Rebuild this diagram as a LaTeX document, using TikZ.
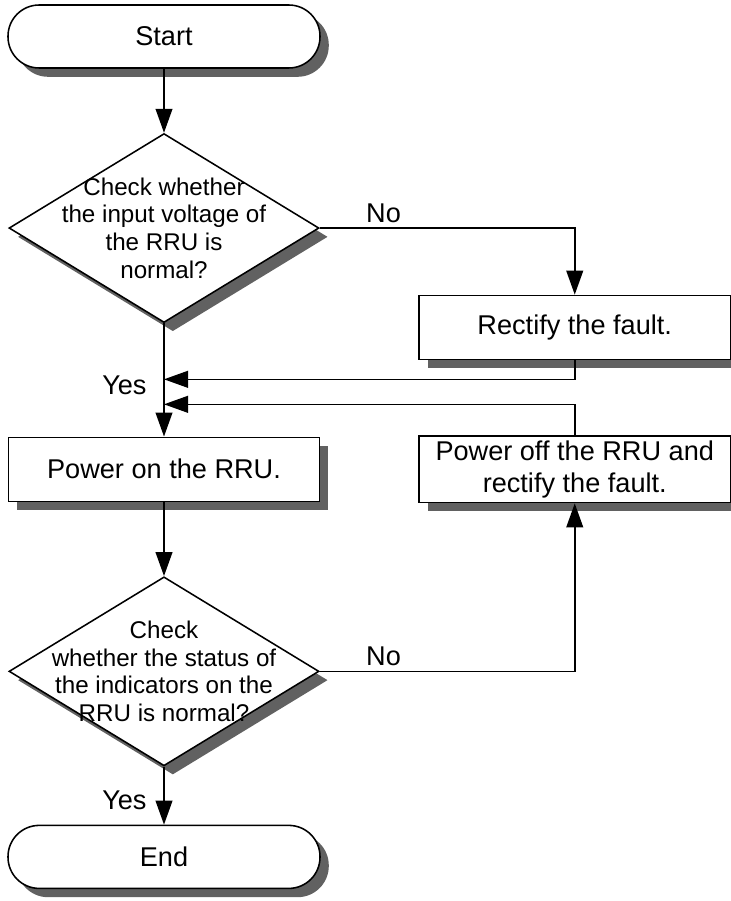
\documentclass[tikz,border=0pt]{standalone}
\usepackage{fontspec}
\setmainfont{Liberation Sans}
\usetikzlibrary{arrows.meta,positioning,calc,shapes.geometric,shadows}

\newcommand{\procfont}{\fontsize{19.3}{22.8}\selectfont}
\newcommand{\askfont}{\fontsize{17.2}{19.6}\selectfont}

\begin{document}
\begin{tikzpicture}[
  shade box/.style={drop shadow={shadow xshift=0.22cm, shadow yshift=-0.22cm, fill=black!62, opacity=1}},
  terminal/.style={draw, line width=1.1pt, fill=white, rounded corners=0.78cm, minimum width=7.8cm, minimum height=1.575cm, font=\procfont, shade box},
  process/.style={draw, line width=1.1pt, fill=white, align=center, minimum width=7.78cm, minimum height=1.6cm, font=\procfont, shade box},
  decision/.style={diamond, draw, line width=1.1pt, fill=white, aspect=1.64, inner sep=-0.5cm, minimum width=7.75cm, minimum height=4.725cm, align=center, font=\askfont, shade box},
  flow/.style={-{Triangle[length=0.6cm, width=0.42cm]}, line width=1.1pt},
  lbl/.style={font=\procfont}
]
\useasboundingbox (0,0) rectangle (18.25,-22.525);

\node[terminal] (start) at (4.1,-0.9125) {Start};
\node[decision, below=1.6cm of start] (chkvolt) {Check whether\\the input voltage of\\the RRU is\\normal?};
\node[process, below=2.83cm of chkvolt] (poweron) {Power on the RRU.};
\node[process, right=2.45cm of poweron] (poweroff) {Power off the RRU and\\rectify the fault.};
\node[process, above=1.875cm of poweroff] (rectify) {Rectify the fault.};
\node[decision, below=1.85cm of poweron] (chkled) {Check\\whether the status of\\the indicators on the\\RRU is normal?};
\node[terminal, below=1.45cm of chkled] (end) {End};

% feedback lines join the main flow here
\coordinate (joinA) at ($(chkvolt.south)+(0,-1.4)$);
\coordinate (joinB) at ($(chkvolt.south)+(0,-2.025)$);

\draw[flow] (start) -- (chkvolt);
\draw[flow] (chkvolt.east) -| node[pos=0.125, above, lbl] {No} (rectify.north);
\draw[flow] (rectify.south) |- (joinA);
\draw[flow] (poweroff.north) |- (joinB);
\draw[flow] (chkvolt.south) -- node[pos=0.55, left, lbl, xshift=-0.3cm] {Yes} (poweron.north);
\draw[flow] (poweron) -- (chkled);
\draw[flow] (chkled.east) -| node[pos=0.125, above, lbl] {No} (poweroff.south);
\draw[flow] (chkled.south) -- node[pos=0.58, left, lbl, xshift=-0.3cm] {Yes} (end.north);

\end{tikzpicture}
\end{document}
